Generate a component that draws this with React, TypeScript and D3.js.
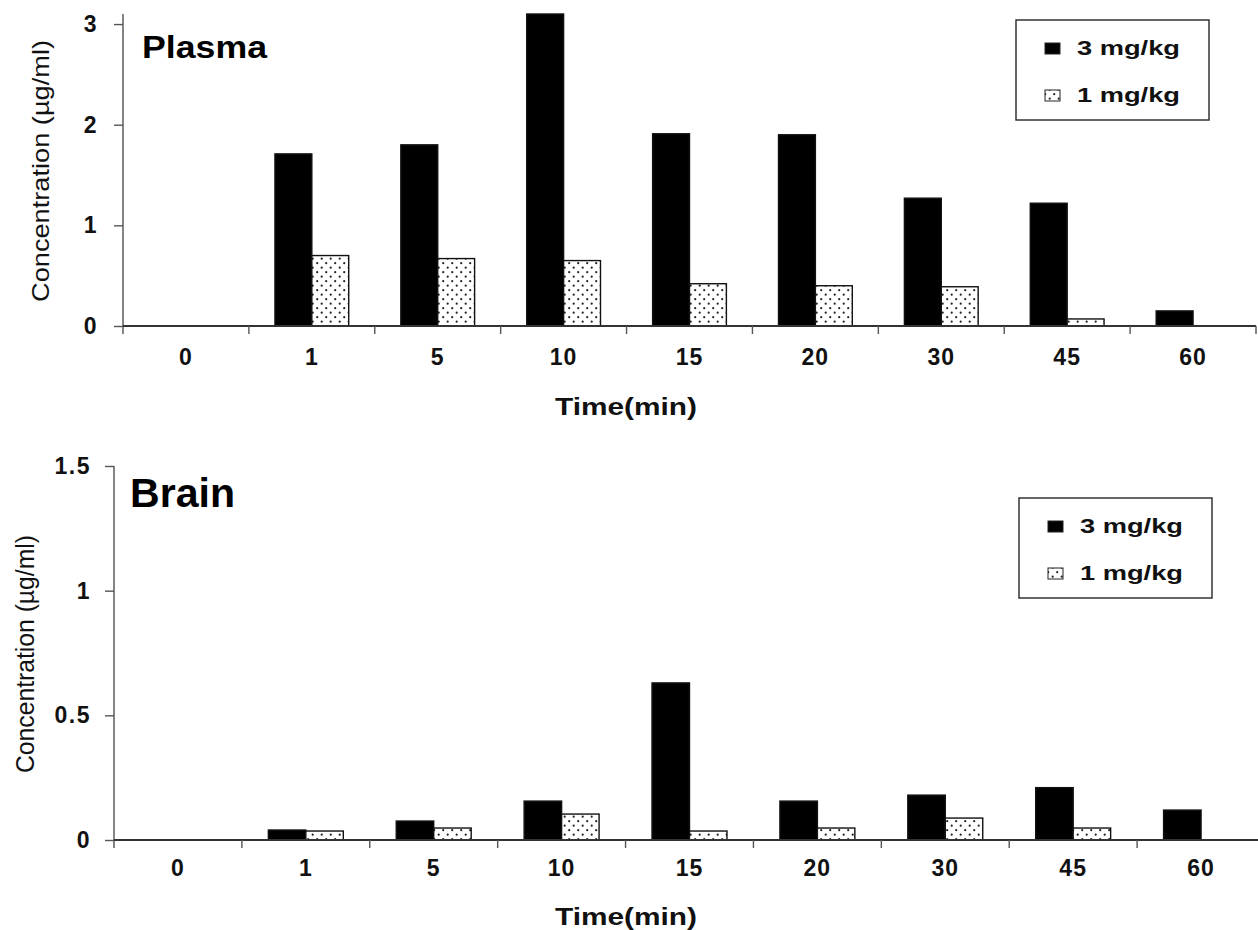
import React, { useEffect, useRef } from "react";
import * as d3 from "d3";

// time points (min) and dose groups
const times = ["0", "1", "5", "10", "15", "20", "30", "45", "60"];
const doses = ["3 mg/kg", "1 mg/kg"];

// concentrations (µg/ml)
const plasmaHigh = [0, 1.71, 1.8, 3.1, 1.91, 1.9, 1.27, 1.22, 0.15];
const plasmaLow = [0, 0.7, 0.67, 0.65, 0.42, 0.4, 0.39, 0.07, 0];
const brainHigh = [0, 0.04, 0.076, 0.156, 0.63, 0.156, 0.18, 0.21, 0.12];
const brainLow = [0, 0.036, 0.048, 0.104, 0.036, 0.048, 0.088, 0.048, 0];

const plasmaTicks = [0, 1, 2, 3];
const brainTicks = [0, 0.5, 1, 1.5];

const FONT = "'Liberation Sans', Arial, sans-serif";

function drawPanel(svg, cfg) {
  const g = svg.append("g");
  const x = d3
    .scaleBand()
    .domain(times)
    .range([cfg.left, cfg.right])
    .padding(0);
  const bw = x.bandwidth();
  const x1 = d3
    .scaleBand()
    .domain(doses)
    .range([bw * 0.207, bw * 0.793])
    .padding(0);
  const y = d3.scaleLinear().domain(cfg.domain).range([cfg.bottom, cfg.top]);

  // bars
  const rows = times.map((t, i) => ({ t, vals: [cfg.high[i], cfg.low[i]] }));
  rows.forEach((r) => {
    r.vals.forEach((v, k) => {
      if (!v) return;
      g.append("rect")
        .attr("x", x(r.t) + x1(doses[k]))
        .attr("y", y(v))
        .attr("width", x1.bandwidth())
        .attr("height", y(0) - y(v))
        .attr("fill", k === 0 ? "#000" : "url(#dots)")
        .attr("stroke", "#111")
        .attr("stroke-width", 1.4);
    });
  });

  // y axis
  const yAxis = g
    .append("g")
    .attr("transform", `translate(${cfg.left},0)`)
    .call(
      d3
        .axisLeft(y)
        .tickValues(cfg.ticks)
        .tickSize(9)
        .tickPadding(cfg.yPad)
        .tickFormat((d) => String(d))
    );
  yAxis.select(".domain").attr("d", `M0,${cfg.top}V${cfg.bottom + 8}`).attr("stroke", "#666").attr("stroke-width", 1.6);
  yAxis.selectAll(".tick line").attr("stroke", "#555").attr("stroke-width", 1.4);
  yAxis
    .selectAll(".tick text")
    .attr("font-family", FONT)
    .attr("font-size", 23)
    .attr("font-weight", "bold")
    .attr("letter-spacing", 1.5)
    .attr("fill", "#111");

  // x axis: line plus ticks at category boundaries
  g.append("line")
    .attr("x1", cfg.left)
    .attr("x2", cfg.axisEnd)
    .attr("y1", y(0))
    .attr("y2", y(0))
    .attr("stroke", "#333")
    .attr("stroke-width", 1.8);
  times.forEach((t, i) => {
    if (i === 0) return;
    g.append("line")
      .attr("x1", x(t))
      .attr("x2", x(t))
      .attr("y1", y(0))
      .attr("y2", y(0) + 8)
      .attr("stroke", "#555")
      .attr("stroke-width", 1.4);
  });
  if (cfg.endTick) {
    g.append("line")
      .attr("x1", cfg.right)
      .attr("x2", cfg.right)
      .attr("y1", y(0))
      .attr("y2", y(0) + 8)
      .attr("stroke", "#555")
      .attr("stroke-width", 1.4);
  }
  g.selectAll(".xlab")
    .data(times)
    .enter()
    .append("text")
    .attr("x", (d) => x(d) + bw / 2)
    .attr("y", cfg.xLabY)
    .attr("text-anchor", "middle")
    .attr("font-family", FONT)
    .attr("font-size", 23)
    .attr("font-weight", "bold")
    .attr("letter-spacing", 1)
    .attr("fill", "#111")
    .text((d) => d);

  // axis titles
  g.append("text")
    .attr("x", cfg.xTitleX)
    .attr("y", cfg.xTitleY)
    .attr("text-anchor", "middle")
    .attr("font-family", FONT)
    .attr("font-size", 23)
    .attr("font-weight", "bold")
    .attr("fill", "#111")
    .attr("textLength", 142)
    .attr("lengthAdjust", "spacingAndGlyphs")
    .text("Time(min)");
  g.append("text")
    .attr("transform", `translate(${cfg.yTitleX},${cfg.yTitleY}) rotate(-90)`)
    .attr("text-anchor", "middle")
    .attr("font-family", FONT)
    .attr("font-size", cfg.yTitleSize)
    .attr("fill", "#111")
    .attr("textLength", cfg.yTitleLen)
    .attr("lengthAdjust", "spacingAndGlyphs")
    .text("Concentration (µg/ml)");

  // panel title
  g.append("text")
    .attr("x", cfg.titleX)
    .attr("y", cfg.titleY)
    .attr("font-family", FONT)
    .attr("font-size", cfg.titleSize)
    .attr("font-weight", "bold")
    .attr("fill", "#000")
    .attr("textLength", cfg.titleLen)
    .attr("lengthAdjust", "spacingAndGlyphs")
    .text(cfg.title);

  // legend
  const lg = g.append("g").attr("transform", `translate(${cfg.legX},${cfg.legY})`);
  lg.append("rect")
    .attr("width", 193)
    .attr("height", 100)
    .attr("fill", "#fff")
    .attr("stroke", "#333")
    .attr("stroke-width", 1.5);
  doses.forEach((d, k) => {
    const yy = k === 0 ? 23 : 70;
    lg.append("rect")
      .attr("x", 29)
      .attr("y", yy)
      .attr("width", 15)
      .attr("height", 11)
      .attr("fill", k === 0 ? "#000" : "url(#dots)")
      .attr("stroke", "#222")
      .attr("stroke-width", 1);
    lg.append("text")
      .attr("x", 61)
      .attr("y", yy + 12)
      .attr("font-family", FONT)
      .attr("font-size", 21)
      .attr("font-weight", "bold")
      .attr("fill", "#111")
      .attr("textLength", 103)
      .attr("lengthAdjust", "spacingAndGlyphs")
      .text(d);
  });
}

export default function App() {
  const ref = useRef(null);

  useEffect(() => {
    const svg = d3.select(ref.current);
    svg.selectAll("*").remove();

    const pat = svg
      .append("defs")
      .append("pattern")
      .attr("id", "dots")
      .attr("patternUnits", "userSpaceOnUse")
      .attr("width", 9)
      .attr("height", 9);
    pat.append("rect").attr("width", 9).attr("height", 9).attr("fill", "#fff");
    pat.append("circle").attr("cx", 2.2).attr("cy", 2.2).attr("r", 1.1).attr("fill", "#222");
    pat.append("circle").attr("cx", 6.7).attr("cy", 6.7).attr("r", 1.1).attr("fill", "#222");

    drawPanel(svg, {
      title: "Plasma",
      high: plasmaHigh,
      low: plasmaLow,
      domain: [0, 3.1],
      ticks: plasmaTicks,
      left: 123,
      right: 1256,
      axisEnd: 1256,
      endTick: true,
      top: 14,
      bottom: 326,
      yPad: 16,
      xLabY: 365,
      xTitleX: 626,
      xTitleY: 415,
      yTitleX: 49,
      yTitleY: 171,
      yTitleSize: 24,
      yTitleLen: 262,
      titleX: 142,
      titleY: 58,
      titleSize: 32,
      titleLen: 125,
      legX: 1016,
      legY: 20,
    });

    drawPanel(svg, {
      title: "Brain",
      high: brainHigh,
      low: brainLow,
      domain: [0, 1.5],
      ticks: brainTicks,
      left: 114,
      right: 1265,
      axisEnd: 1258,
      endTick: false,
      top: 466,
      bottom: 840,
      yPad: 14,
      xLabY: 876,
      xTitleX: 626,
      xTitleY: 925,
      yTitleX: 34,
      yTitleY: 654,
      yTitleSize: 26,
      yTitleLen: 238,
      titleX: 130,
      titleY: 507,
      titleSize: 41,
      titleLen: 105,
      legX: 1019,
      legY: 498,
    });
  }, []);

  return (
    <svg
      ref={ref}
      width={1258}
      height={930}
      style={{ position: "absolute", left: 0, top: 0, background: "#fff" }}
    />
  );
}
